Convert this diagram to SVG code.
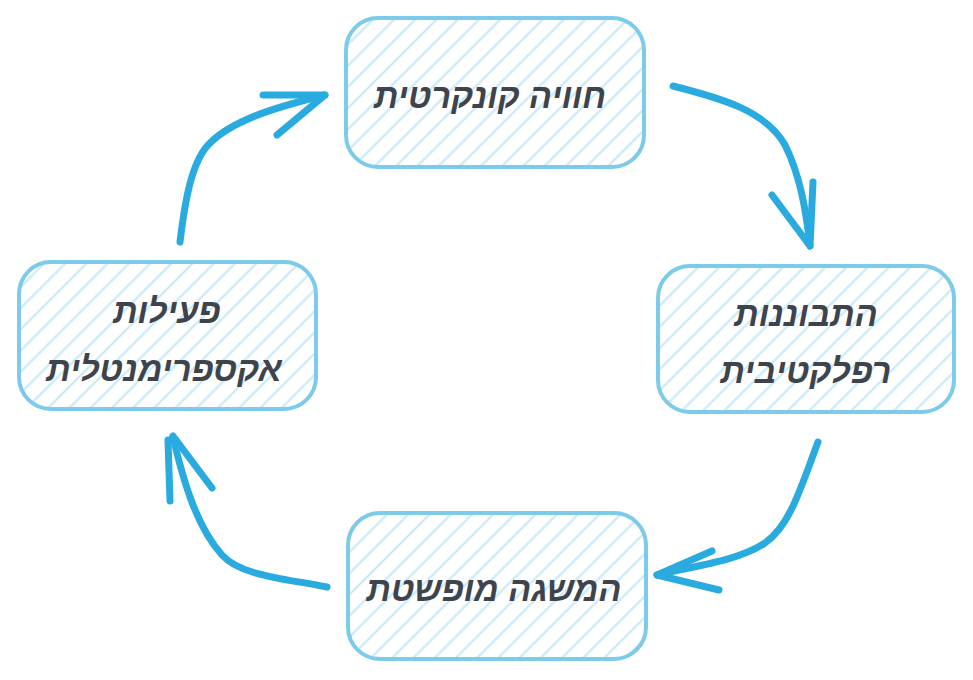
<svg xmlns="http://www.w3.org/2000/svg" width="973" height="680" viewBox="0 0 973 680">
<style>
.box{fill:url(#hatch);stroke:#7ccbea;stroke-width:4;}
.lbl{font-family:"Liberation Sans","DejaVu Sans",sans-serif;font-size:34px;font-weight:bold;font-style:italic;fill:#3f444c;text-anchor:middle;}
.conn path{fill:none;stroke:#2aabdf;stroke-width:7;stroke-linecap:round;stroke-linejoin:round;}
</style>
<defs>
<pattern id="hatch" patternUnits="userSpaceOnUse" width="15" height="15" patternTransform="rotate(-45)">
<line x1="0" y1="7.5" x2="15" y2="7.5" stroke="#c3e7f7" stroke-width="2"/>
</pattern>
</defs>
<rect width="973" height="680" fill="#ffffff"/>
<g id="node-concrete">
<rect class="box" x="346" y="18" width="298" height="149" rx="32"/>
<text class="lbl" x="490" y="108">חוויה קונקרטית</text>
</g>
<g id="node-reflective">
<rect class="box" x="658" y="266" width="296" height="146" rx="32"/>
<text class="lbl" x="806" y="326">התבוננות</text>
<text class="lbl" x="806" y="383">רפלקטיבית</text>
</g>
<g id="node-abstract">
<rect class="box" x="348" y="513" width="298" height="146" rx="32"/>
<text class="lbl" x="494" y="601">המשגה מופשטת</text>
</g>
<g id="node-active">
<rect class="box" x="19" y="262" width="297" height="147" rx="32"/>
<text class="lbl" x="167" y="323">פעילות</text>
<text class="lbl" x="164" y="381">אקספרימנטלית</text>
</g>
<g id="connectors" class="conn">
<path d="M673,86 C720,98 765,110 785,145 C800,175 806,210 810,246"/>
<path d="M772,195 L810,246 L813,182"/>
<path d="M818,442 C800,490 790,525 765,543 C740,560 700,565 657,575"/>
<path d="M712,551 L657,575 L719,590"/>
<path d="M327,587 C280,578 240,575 222,555 C195,525 182,475 173,437"/>
<path d="M212,488 L173,436 M170,501 L168,440"/>
<path d="M180,242 C185,200 192,160 210,143 C235,118 285,105 325,95"/>
<path d="M263,95 L325,95 L277,135"/>
</g>
</svg>
